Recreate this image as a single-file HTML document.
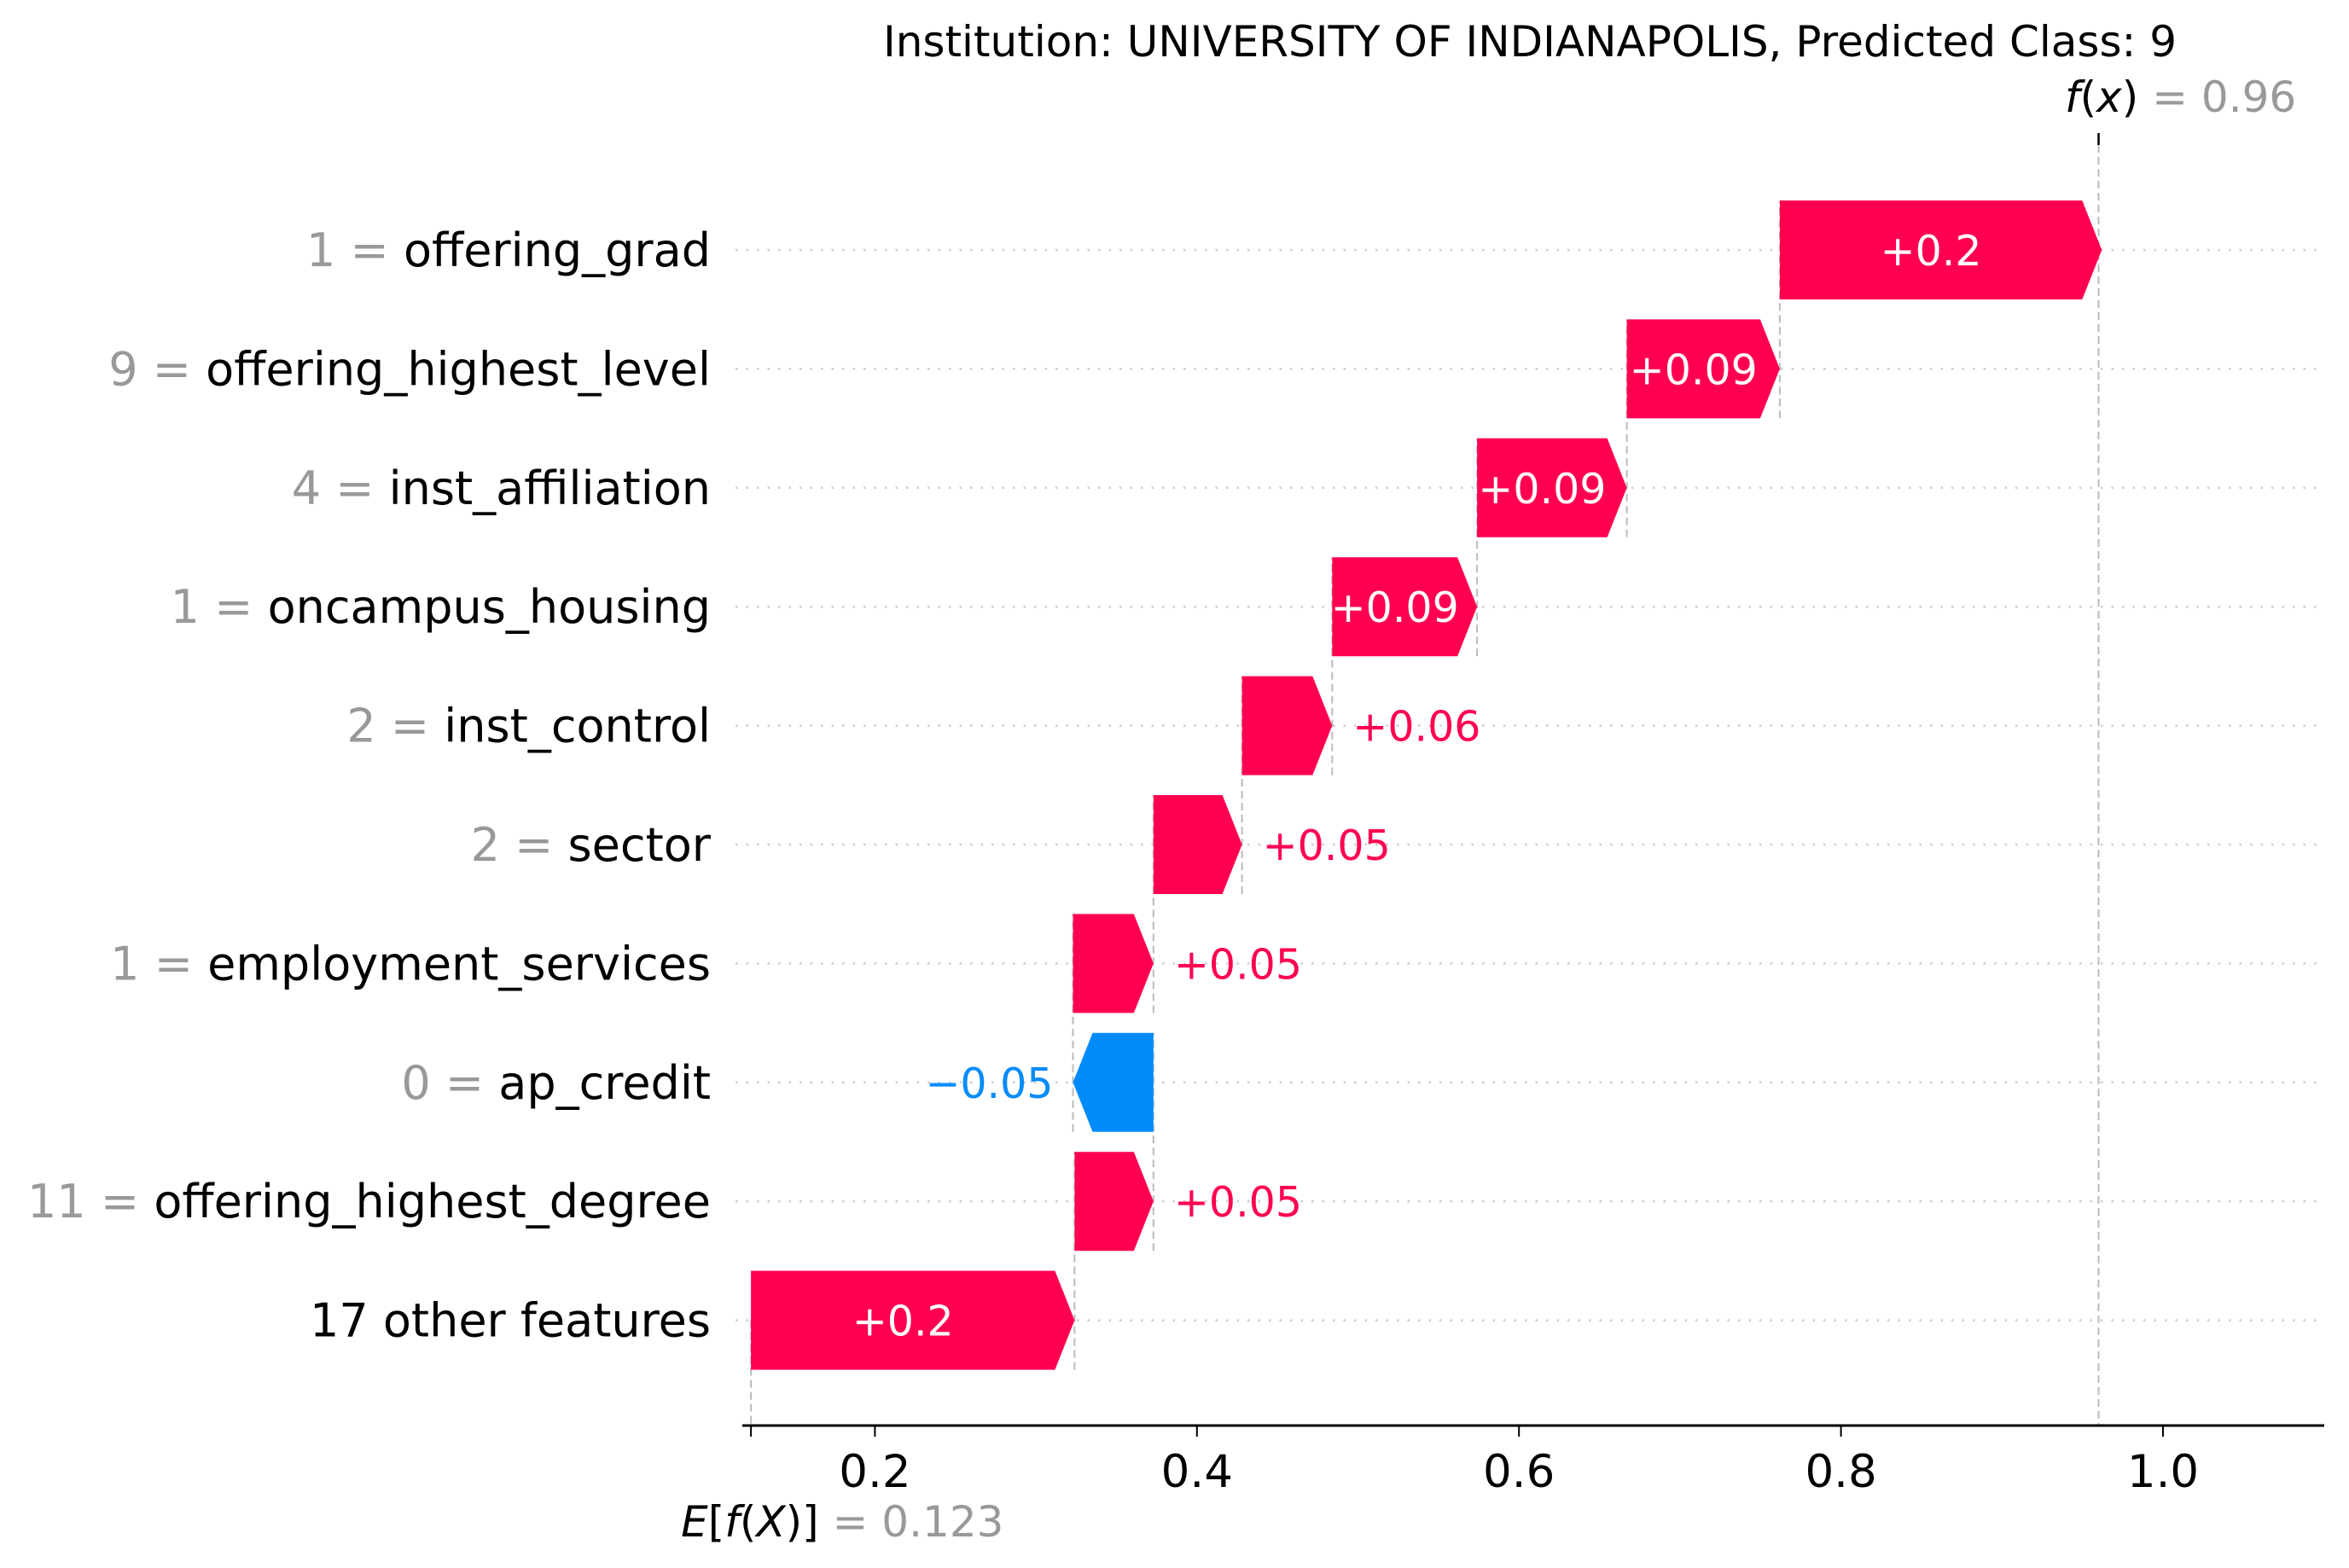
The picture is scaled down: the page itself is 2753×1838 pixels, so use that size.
<!DOCTYPE html>
<html><head><meta charset="utf-8"><style>
html,body{margin:0;padding:0;background:#fff;}
svg{display:block;font-family:"DejaVu Sans","Liberation Sans",sans-serif;}
</style></head><body>
<svg id="chart" width="2753" height="1838" viewBox="0 0 2753 1838" xmlns="http://www.w3.org/2000/svg">
<text x="1793" y="66" font-size="50" text-anchor="middle" fill="#000">Institution: UNIVERSITY OF INDIANAPOLIS, Predicted Class: 9</text>
<g id="plot"></g>
</svg>
<script>
const featureValues = ["1","9","4","1","2","2","1","0","11",""];
const featureNames = ["offering_grad","offering_highest_level","inst_affiliation","oncampus_housing","inst_control","sector","employment_services","ap_credit","offering_highest_degree","17 other features"];
const shapValues = [0.2,0.095,0.093,0.09,0.056,0.055,0.05,-0.05,0.049,0.201];
const valueLabels = ["+0.2","+0.09","+0.09","+0.09","+0.06","+0.05","+0.05","\u22120.05","+0.05","+0.2"];
const baseValue = 0.123;
const fxValue = 0.96;
const xTicks = [0.2,0.4,0.6,0.8,1.0];
const xTickLabels = ["0.2","0.4","0.6","0.8","1.0"];

const NS="http://www.w3.org/2000/svg";
const g=document.getElementById('plot');
const X0=648, PXU=1887;
function xs(v){return X0+v*PXU;}
const ROW0=293, ROWH=139.4, BARH=116, HEAD=23;
function ys(i){return ROW0+i*ROWH;}
function mk(tag,attrs,parent){const e=document.createElementNS(NS,tag);for(const k in attrs)e.setAttribute(k,attrs[k]);(parent||g).appendChild(e);return e;}
const PINK="#ff0051", BLUE="#008bfb";
const n=featureNames.length;
const starts=new Array(n), ends=new Array(n);
let cum=baseValue;
for(let i=n-1;i>=0;i--){starts[i]=cum;cum+=shapValues[i];ends[i]=cum;}

for(let i=0;i<n;i++){
  const l=mk('line',{x1:862,x2:2722,y1:ys(i),y2:ys(i),stroke:"#cccccc","stroke-width":2.5,"stroke-dasharray":"2.5 10"});
  
  
}
for(let i=0;i<n-1;i++){
  const v=ends[i+1];
  const l=mk('line',{x1:xs(v),x2:xs(v),y1:ys(i+1)+BARH/2,y2:ys(i)-BARH/2,stroke:"#bbbbbb","stroke-width":2,"stroke-dasharray":"9 5"});
  
  
}
{
  const l=mk('line',{x1:xs(baseValue),x2:xs(baseValue),y1:ys(n-1),y2:1670,stroke:"#bbbbbb","stroke-width":2,"stroke-dasharray":"9 5"});
  
  
  const f=mk('line',{x1:xs(fxValue),x2:xs(fxValue),y1:170,y2:1670,stroke:"#bbbbbb","stroke-width":2,"stroke-dasharray":"9 5"});
  
  
  const t=mk('line',{x1:xs(fxValue),x2:xs(fxValue),y1:156,y2:170,stroke:"#000","stroke-width":2.5});
  
  
}
for(let i=0;i<n;i++){
  const s=xs(starts[i]), e=xs(ends[i]), y=ys(i), pos=shapValues[i]>=0;
  const w=Math.abs(e-s), h=Math.min(HEAD,w);
  let pts;
  if(pos) pts=[[s,y-BARH/2],[e-h,y-BARH/2],[e,y],[e-h,y+BARH/2],[s,y+BARH/2]];
  else pts=[[s,y-BARH/2],[e+h,y-BARH/2],[e,y],[e+h,y+BARH/2],[s,y+BARH/2]];
  const p=mk('polygon',{points:pts.map(q=>q.join(',')).join(' '),fill:pos?PINK:BLUE});
  
  
  const inside=w>150;
  let tx,anchor,col;
  if(inside){tx=(s+e-(pos?h:-h))/2;anchor="middle";col="#fff";}
  else if(pos){tx=e+24;anchor="start";col=PINK;}
  else {tx=e-23;anchor="end";col=BLUE;}
  const t=mk('text',{x:tx,y:y+18,"font-size":49,"text-anchor":anchor,fill:col});
  t.textContent=valueLabels[i];
  
  
  const yl=mk('text',{x:833,y:y+19,"font-size":54,"text-anchor":"end",fill:"#000"});
  
  
  if(featureValues[i]!==""){
    const a=mk('tspan',{fill:"#999999"},yl);a.textContent=featureValues[i]+" = ";
  }
  const b=mk('tspan',{fill:"#000"},yl);b.textContent=featureNames[i];
}
{
  const ax=mk('line',{x1:870,x2:2724,y1:1671,y2:1671,stroke:"#000","stroke-width":3});
  
  
  const bt=mk('line',{x1:xs(baseValue),x2:xs(baseValue),y1:1671,y2:1684,stroke:"#000","stroke-width":2});
  
  
  for(let k=0;k<xTicks.length;k++){
    const x=xs(xTicks[k]);
    const tk=mk('line',{x1:x,x2:x,y1:1671,y2:1684,stroke:"#000","stroke-width":2});
    
    
    const tl=mk('text',{x:x,y:1743,"font-size":53,"text-anchor":"middle",fill:"#000"});
    tl.textContent=xTickLabels[k];
    
    
  }
  const el=mk('text',{x:xs(baseValue)-82,y:1801,"font-size":50,fill:"#000"});
  
  
  el.innerHTML='<tspan font-style="italic">E</tspan>[<tspan font-style="italic">f</tspan>(<tspan font-style="italic">X</tspan>)] <tspan fill="#999999">= '+baseValue+'</tspan>';
  const fl=mk('text',{x:2420,y:131,"font-size":50,fill:"#000"});
  
  
  fl.innerHTML='<tspan font-style="italic">f</tspan>(<tspan font-style="italic">x</tspan>) <tspan fill="#999999">= '+fxValue+'</tspan>';
}
</script>
</body></html>
